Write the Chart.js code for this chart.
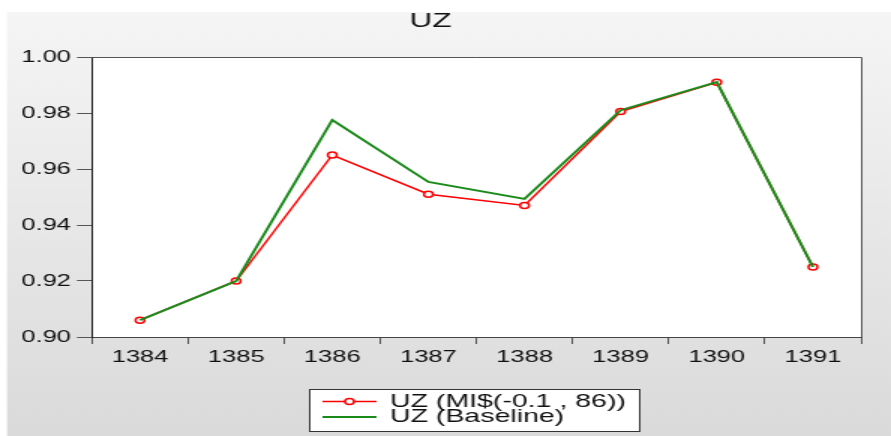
<!DOCTYPE html>
<html>
<head>
<meta charset="utf-8">
<script src="https://cdn.jsdelivr.net/npm/chart.js@4"></script>
<style>
  html, body { margin: 0; padding: 0; background: #fff; }
  /* the reference is stretched sideways, so the canvas is drawn narrow and widened by css */
  #chart { display: block; width: 891px !important; height: 436px !important; }
</style>
</head>
<body>
<canvas id="chart" width="594" height="436" style="width:891px;height:436px"></canvas>
<script>
const years = ["1384", "1385", "1386", "1387", "1388", "1389", "1390", "1391"];
const uzMI = [0.906, 0.920, 0.965, 0.951, 0.947, 0.9805, 0.991, 0.925];
const uzBaseline = [0.906, 0.920, 0.9775, 0.9554, 0.9493, 0.981, 0.991, 0.925];
const yTicks = [0.90, 0.92, 0.94, 0.96, 0.98, 1.00];

const FONT = "'Liberation Sans', Arial, sans-serif";

const backdrop = {
  id: "backdrop",
  beforeDraw(chart) {
    const { ctx, width, height, chartArea } = chart;
    ctx.save();
    ctx.fillStyle = "#fff";
    ctx.fillRect(0, 0, width, height);
    const g = ctx.createLinearGradient(0, 12, 0, height);
    g.addColorStop(0, "#f5f5f5");
    g.addColorStop(1, "#dadada");
    ctx.fillStyle = g;
    ctx.fillRect(4.7, 12, width - 4.7, height - 12);
    ctx.fillStyle = "#fff";
    ctx.fillRect(chartArea.left, chartArea.top, chartArea.right - chartArea.left, chartArea.bottom - chartArea.top);
    ctx.restore();
  },
  afterDraw(chart) {
    const { ctx, chartArea } = chart;
    ctx.save();
    ctx.strokeStyle = "#555";
    ctx.lineWidth = 1;
    ctx.beginPath();
    ctx.moveTo(chartArea.left, chartArea.top + 0.5);
    ctx.lineTo(chartArea.right + 0.5, chartArea.top + 0.5);
    ctx.lineTo(chartArea.right + 0.5, chartArea.bottom);
    ctx.stroke();

    // legend box
    const bx = 206, by = 389, bw = 220, bh = 42;
    ctx.fillStyle = "#fff";
    ctx.fillRect(bx, by, bw, bh);
    ctx.strokeStyle = "#333";
    ctx.strokeRect(bx + 0.5, by + 0.5, bw, bh);
    const rows = [401.5, 417];
    ctx.font = "19px " + FONT;
    ctx.textBaseline = "middle";
    chart.data.datasets.forEach((ds, i) => {
      const y = rows[i];
      ctx.strokeStyle = ds.borderColor;
      ctx.lineWidth = ds.borderWidth;
      ctx.beginPath();
      ctx.moveTo(215, y);
      ctx.lineTo(251, y);
      ctx.stroke();
      if (ds.pointRadius > 0) {
        ctx.beginPath();
        ctx.arc(233, y, ds.pointRadius, 0, Math.PI * 2);
        ctx.fillStyle = ds.pointBackgroundColor;
        ctx.fill();
        ctx.lineWidth = ds.pointBorderWidth;
        ctx.stroke();
      }
      ctx.fillStyle = "#111";
      ctx.fillText(ds.label, 260, y);
    });
    ctx.restore();
  }
};

new Chart(document.getElementById("chart"), {
  type: "line",
  data: {
    labels: years,
    datasets: [
      {
        label: "UZ (MI$(-0.1 , 86))",
        data: uzMI,
        borderColor: "#ff0000",
        borderWidth: 1.5,
        pointRadius: 3,
        pointBorderColor: "#ff0000",
        pointBackgroundColor: "#fff",
        pointBorderWidth: 1.5,
        order: 1,
      },
      {
        label: "UZ (Baseline)",
        data: uzBaseline,
        borderColor: "#1a8a1a",
        borderWidth: 2,
        pointRadius: 0,
        order: 0,
      },
    ],
  },
  options: {
    responsive: false,
    animation: false,
    events: [],
    layout: { padding: { left: 0, right: 20, top: 0, bottom: 59 } },
    plugins: {
      legend: { display: false },
      tooltip: { enabled: false },
      title: {
        display: true,
        text: "UZ",
        color: "#111",
        font: { family: FONT, size: 21, weight: "normal" },
        padding: { top: 9, bottom: 22.8 },
      },
    },
    scales: {
      x: {
        offset: true,
        grid: { offset: true, drawOnChartArea: false, drawTicks: true, tickLength: 7, color: "#555" },
        border: { display: true, color: "#444" },
        ticks: { color: "#111", padding: 3, maxRotation: 0, font: { family: FONT, size: 17 } },
        afterFit: (scale) => { scale.height = 40; },
      },
      y: {
        min: 0.9,
        max: 1.0,
        afterBuildTicks: (scale) => { scale.ticks = yTicks.map((v) => ({ value: v })); },
        grid: { drawOnChartArea: false, drawTicks: true, tickLength: 10, color: "#555" },
        border: { display: true, color: "#222" },
        ticks: { color: "#111", padding: 4, font: { family: FONT, size: 17 }, callback: (v) => Number(v).toFixed(2) },
        afterFit: (scale) => { scale.width = 61.3; },
      },
    },
  },
  plugins: [backdrop],
});
</script>
</body>
</html>
